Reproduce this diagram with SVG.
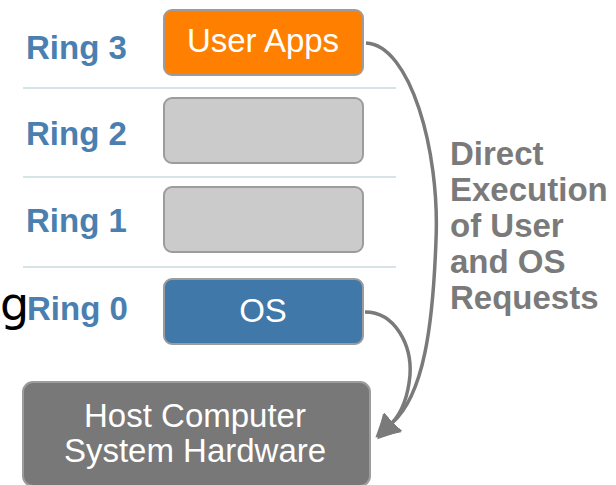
<svg xmlns="http://www.w3.org/2000/svg" width="616" height="485" viewBox="0 0 616 485">
<defs>
<style>
.ring{font-family:"Liberation Sans",Arial,sans-serif;font-weight:bold;font-size:33px;fill:#4a7fb0}
.box{stroke:#9c9c9c;stroke-width:2}
.lbl{font-family:"Liberation Sans",Arial,sans-serif;font-size:33px;fill:#ffffff;text-anchor:middle}
.side{font-family:"Liberation Sans",Arial,sans-serif;font-weight:bold;font-size:33px;fill:#7a7a7a}
.sep{stroke:#c9dadf;stroke-width:1.5}
.conn{fill:none;stroke:#7a7a7a;stroke-width:3.5}
</style>
<marker id="ah" markerUnits="userSpaceOnUse" markerWidth="24" markerHeight="26" viewBox="0 0 24 26" refX="1" refY="13" orient="auto">
<path d="M0,0 L23,13 L0,26 z" fill="#7a7a7a"/>
</marker>
</defs>
<rect width="616" height="485" fill="#ffffff"/>
<g id="separators">
<line class="sep" x1="23" y1="88" x2="396" y2="88"/>
<line class="sep" x1="23" y1="177" x2="396" y2="177"/>
<line class="sep" x1="23" y1="267" x2="396" y2="267"/>
</g>
<g id="ring-labels">
<text class="ring" x="26" y="59">Ring 3</text>
<text class="ring" x="26" y="145">Ring 2</text>
<text class="ring" x="26" y="232">Ring 1</text>
<text class="ring" x="27" y="320">Ring 0</text>
</g>
<text x="0" y="320" font-family="DejaVu Sans, sans-serif" font-size="46" fill="#000000">g</text>
<g id="user-apps">
<rect class="box" x="164" y="10" width="199" height="65" rx="8" fill="#ff8000"/>
<text class="lbl" x="263" y="52">User Apps</text>
</g>
<g id="ring2-box">
<rect class="box" x="164" y="98" width="199" height="65" rx="8" fill="#cbcbcb"/>
</g>
<g id="ring1-box">
<rect class="box" x="164" y="187" width="199" height="65" rx="8" fill="#cbcbcb"/>
</g>
<g id="os">
<rect class="box" x="164" y="279" width="199" height="65" rx="8" fill="#3f78a9"/>
<text class="lbl" x="263" y="322">OS</text>
</g>
<g id="hardware">
<rect class="box" x="23" y="382" width="347" height="104" rx="10" fill="#787878"/>
<text class="lbl" x="195" y="427">Host Computer</text>
<text class="lbl" x="195" y="462">System Hardware</text>
</g>
<g id="connectors">
<path class="conn" d="M366,43 C410,45 440,150 436,240 C433,325 424,395 392,423" marker-end="url(#ah)"/>
<path class="conn" d="M365,312 C395,312 412,345 410,375 C408,398 402,412 392,423" marker-end="url(#ah)"/>
</g>
<g id="side-label">
<text class="side" x="450" y="165">Direct</text>
<text class="side" x="450" y="201">Execution</text>
<text class="side" x="450" y="237">of User</text>
<text class="side" x="450" y="273">and OS</text>
<text class="side" x="450" y="309">Requests</text>
</g>
</svg>
